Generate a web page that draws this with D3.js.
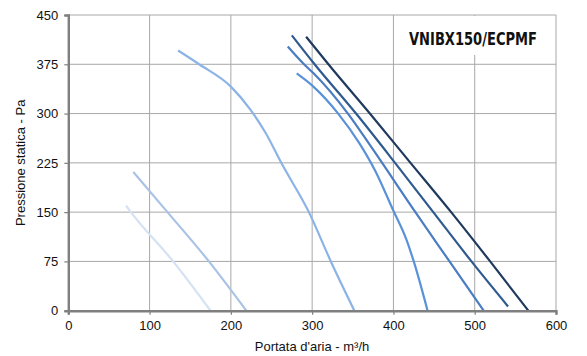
<!DOCTYPE html>
<html><head><meta charset="utf-8">
<script src="https://cdn.jsdelivr.net/npm/d3@7"></script>
<style>body{margin:0;background:#fff}svg{display:block}</style>
</head><body><svg id="c" width="587" height="356"></svg>
<script>
const xTicks = [0,100,200,300,400,500,600];
const yTicks = [0,75,150,225,300,375,450];
const title = "VNIBX150/ECPMF";
const xLabel = "Portata d'aria - m³/h";
const yLabel = "Pressione statica - Pa";
// curves, lightest to darkest: [portata, pressione]
const curve1 = [[71,160],[77,150],[129,75],[175,0]];
const curve2 = [[80,211],[122,150],[173,75],[219,0]];
const curve3 = [[135,396],[161,375],[200,341],[224,306],[243,270],[262,225],[296,150],[323,75],[352,0]];
const curve4 = [[281,361],[301.5,341],[332,300],[358,255],[378,212],[400,152],[416,108],[425,75],[442,0]];
const curve5 = [[270,402],[290,375],[302,361],[344,300],[375,245],[427,150],[469,75],[511,0]];
const curve6 = [[275,419],[303,375],[354,300],[402,225],[449,150],[496,75],[541,6.5]];
const curve7 = [[292.6,417],[320,375],[371,300],[421,225],[471,150],[519,75],[566,0]];
const curves = [curve1,curve2,curve3,curve4,curve5,curve6,curve7];
const colors = ["#d5e2f3","#a9c3e5","#8cb3e6","#5a92da","#4a7dc2","#2f5a8f","#1f3a5e"];

const svg = d3.select("#c");
const x = d3.scaleLinear().domain([0,600]).range([68.3,556]);
const y = d3.scaleLinear().domain([0,450]).range([310.7,15]);

// grid
svg.append("g").selectAll("line").data(xTicks.slice(1)).join("line")
  .attr("x1",d=>x(d)).attr("x2",d=>x(d)).attr("y1",y(450)).attr("y2",y(0))
  .attr("stroke","#a8a8a8").attr("stroke-width",1);
svg.append("g").selectAll("line").data(yTicks.slice(1)).join("line")
  .attr("x1",x(0)).attr("x2",x(600)).attr("y1",d=>y(d)).attr("y2",d=>y(d))
  .attr("stroke","#a8a8a8").attr("stroke-width",1);

// title box
svg.append("rect").attr("x",404).attr("y",16).attr("width",140).attr("height",39).attr("fill","#fff");
svg.append("text").attr("x",537).attr("y",45).attr("text-anchor","end")
  .attr("font-family","'Liberation Sans Narrow','DejaVu Sans Condensed',Arial,sans-serif")
  .attr("font-weight","bold").attr("font-size",17).attr("textLength",128).attr("lengthAdjust","spacingAndGlyphs")
  .attr("fill","#111").text(title);

// curves
const line = d3.line().x(d=>x(d[0])).y(d=>y(d[1])).curve(d3.curveMonotoneX);
svg.append("g").selectAll("path").data(curves).join("path")
  .attr("d",line).attr("fill","none").attr("stroke",(d,i)=>colors[i]).attr("stroke-width",2.2);

// axes
const xa = svg.append("g").attr("transform",`translate(0,${y(0)})`)
  .call(d3.axisBottom(x).tickValues(xTicks).tickSize(4).tickPadding(6));
const ya = svg.append("g").attr("transform",`translate(${x(0)},0)`)
  .call(d3.axisLeft(y).tickValues(yTicks).tickSize(4).tickPadding(6));
[xa,ya].forEach(a=>{
  a.select(".domain").attr("stroke","#7f7f7f").attr("stroke-width",2.4);
  a.selectAll(".tick line").attr("stroke","#7f7f7f").attr("stroke-width",1.2);
  a.selectAll("text").attr("font-family","'Liberation Sans',Arial,sans-serif").attr("font-size",13).attr("fill","#111");
});
svg.append("text").attr("x",312).attr("y",351).attr("text-anchor","middle")
  .attr("font-family","'Liberation Sans',Arial,sans-serif").attr("font-size",13).attr("fill","#111").text(xLabel);
svg.append("text").attr("transform",`translate(25,${y(225)}) rotate(-90)`).attr("text-anchor","middle")
  .attr("font-family","'Liberation Sans',Arial,sans-serif").attr("font-size",13).attr("fill","#111").text(yLabel);
</script></body></html>
